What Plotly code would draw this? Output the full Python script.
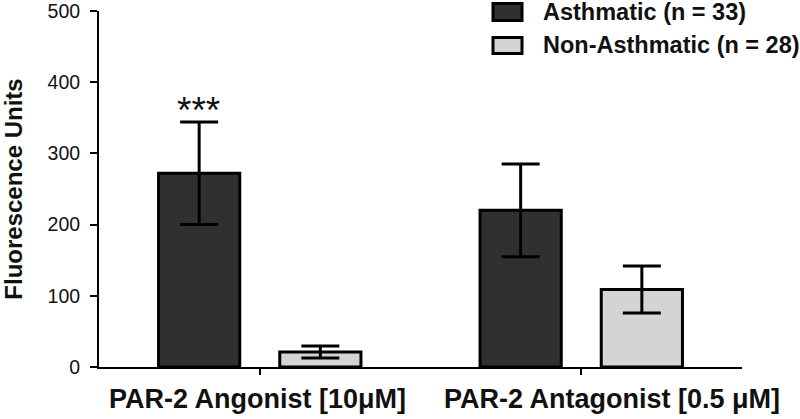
import plotly.graph_objects as go

categories = ["PAR-2 Angonist [10μM]", "PAR-2 Antagonist [0.5 μM]"]
series_names = ["Asthmatic (n = 33)", "Non-Asthmatic (n = 28)"]
asthmatic_mean = [272, 220]
asthmatic_err = [72, 65]
non_asthmatic_mean = [21, 109]
non_asthmatic_err = [8.5, 33]
y_ticks = [0, 100, 200, 300, 400, 500]
significance = ["***", ""]

colors = ["#303030", "#d4d4d4"]
FONT = "Arial, Liberation Sans, sans-serif"

fig = go.Figure()
for name, mean, err, col in [
    (series_names[0], asthmatic_mean, asthmatic_err, colors[0]),
    (series_names[1], non_asthmatic_mean, non_asthmatic_err, colors[1]),
]:
    fig.add_trace(go.Bar(
        x=categories, y=mean, name=name,
        marker=dict(color=col, line=dict(color="#000", width=3)),
        error_y=dict(type="data", array=err, color="#000", thickness=3, width=19),
        showlegend=False,
    ))

# significance marks
for cat, m, e, s in zip(categories, asthmatic_mean, asthmatic_err, significance):
    if s:
        fig.add_annotation(x=cat, y=m + e, text=s, showarrow=False, xshift=-61,
                           yanchor="bottom", yshift=-11,
                           font=dict(family=FONT, size=37, color="#111"))

# category labels (placed as in the original figure)
label_shifts = [-2, 31]
for cat, xs in zip(categories, label_shifts):
    fig.add_annotation(x=cat, xref="x", yref="paper", y=0, text="<b>%s</b>" % cat,
                       showarrow=False, xanchor="center", yanchor="middle",
                       xshift=xs, yshift=-32,
                       font=dict(family=FONT, size=27, color="#111"))

# custom legend with wide boxes
L, W = 99, 643
def px(xp):
    return (xp - L) / W
def py(yp):
    return (367 - yp) / 356
legend_rows = [(3.5, 20.5, 12), (37.5, 53.5, 45)]
for (y0, y1, yc), name, col in zip(legend_rows, series_names, colors):
    fig.add_shape(type="rect", xref="paper", yref="paper",
                  x0=px(493), x1=px(522), y0=py(y1), y1=py(y0),
                  fillcolor=col, line=dict(color="#000", width=3))
    fig.add_annotation(xref="paper", yref="paper", x=px(541), y=py(yc), text="<b>%s</b>" % name,
                       showarrow=False, xanchor="left", yanchor="middle",
                       font=dict(family=FONT, size=23.5, color="#111"))

fig.update_layout(
    width=800, height=419,
    margin=dict(l=99, r=58, t=11, b=52),
    paper_bgcolor="white", plot_bgcolor="white",
    barmode="group", bargap=0.246, bargroupgap=0.33,
    font=dict(family=FONT, color="#111"),
    showlegend=False,
)
fig.update_xaxes(
    range=[-0.5, 1.5], showline=True, linecolor="#000", linewidth=2,
    ticks="outside", ticklen=6, tickwidth=2, tickcolor="#000",
    showticklabels=False, showgrid=False, zeroline=False,
    automargin=False,
)
fig.update_yaxes(
    range=[0, 500], tickvals=y_ticks, showline=True, linecolor="#000", linewidth=2,
    ticks="outside", ticklen=7, tickwidth=2, tickcolor="#000",
    tickfont=dict(family=FONT, size=19.5, color="#111"), ticklabelstandoff=6,
    ticklabeloverflow="allow",
    tickprefix="<b>", ticksuffix="</b>", showgrid=False, zeroline=False,
    automargin=False,
    title=dict(text="<b>Fluorescence Units</b>", font=dict(family=FONT, size=24, color="#111"), standoff=22),
)

fig.write_html("out.html", config={"displayModeBar": False},
               post_script="document.body.style.margin='0';")
